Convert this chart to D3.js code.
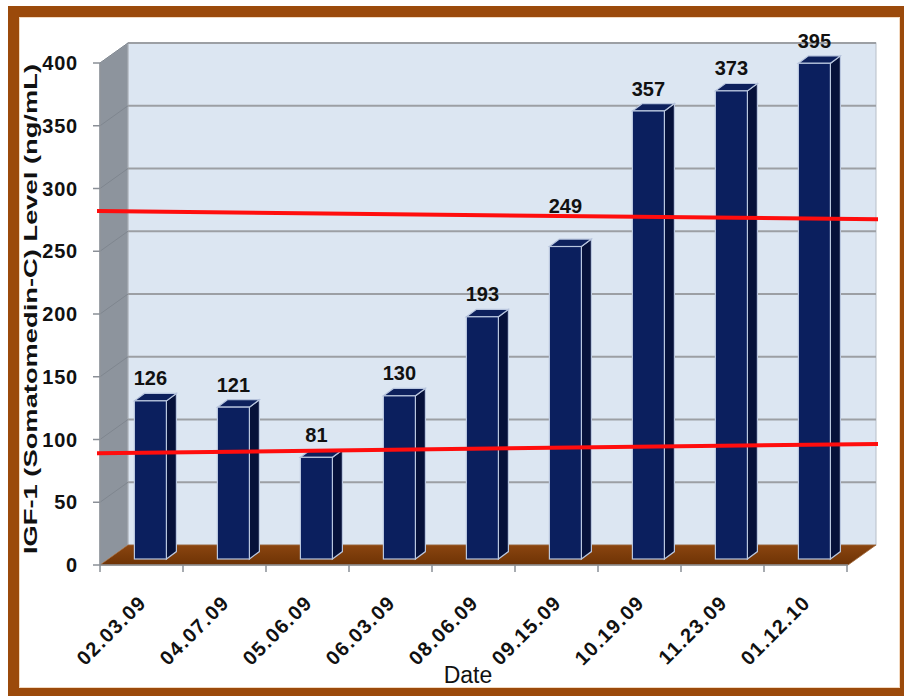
<!DOCTYPE html>
<html>
<head>
<meta charset="utf-8">
<script src="https://cdn.jsdelivr.net/npm/d3@7"></script>
<style>
  body { margin: 0; background: #fff; }
  svg { display: block; font-family: "Liberation Sans", Arial, sans-serif; }
</style>
</head>
<body>
<svg id="chart" width="904" height="696"></svg>
<script>
// values
var dates = ["02.03.09", "04.07.09", "05.06.09", "06.03.09", "08.06.09", "09.15.09", "10.19.09", "11.23.09", "01.12.10"];
var igf = [126, 121, 81, 130, 193, 249, 357, 373, 395];
var yTicks = [0, 50, 100, 150, 200, 250, 300, 350, 400];
// the two hand drawn red range lines, value at left end / right end
var upperRange = [282, 275.5];
var lowerRange = [89, 96.5];

var svg = d3.select("#chart");

var depth = { dx: 28, dy: -20 },   // 3d offset of the back wall
    barDepth = { f0: 0.3, w: 10, h: 7.4 },
    barWidth = 32;

var x = d3.scaleBand().domain(dates).range([100, 847]),
    y = d3.scaleLinear().domain([0, 400]).range([565, 63]);

var left = x.range()[0], right = x.range()[1];

// frame
svg.append("rect")
    .attr("x", 13.5).attr("y", 11.5)
    .attr("width", 892).attr("height", 682)
    .attr("fill", "#fff")
    .attr("stroke", "#9b4a0b").attr("stroke-width", 11);
svg.append("rect")
    .attr("x", 19.5).attr("y", 17.5)
    .attr("width", 880).attr("height", 670)
    .attr("fill", "none")
    .attr("stroke", "#f3d9c0").attr("stroke-width", 1);

var g = svg.append("g");

// back wall
g.append("rect")
    .attr("x", left + depth.dx).attr("y", y(400) + depth.dy)
    .attr("width", right - left + 1).attr("height", y(0) - y(400))
    .attr("fill", "#dce6f2")
    .attr("stroke", "#b8bfc8").attr("stroke-width", 1);

// side wall
g.append("polygon")
    .attr("points", [
        [left, y(400)], [left + depth.dx, y(400) + depth.dy],
        [left + depth.dx, y(0) + depth.dy], [left, y(0)]
    ].join(" "))
    .attr("fill", "#8d949d")
    .attr("stroke", "#b0b6bd").attr("stroke-width", 1);

// gridlines
g.selectAll(".grid")
    .data(yTicks.slice(1))
    .enter().append("line")
    .attr("class", "grid")
    .attr("x1", left + depth.dx).attr("x2", right + depth.dx + 1)
    .attr("y1", function (d) { return y(d) + depth.dy; })
    .attr("y2", function (d) { return y(d) + depth.dy; })
    .attr("stroke", "#9c9fa4").attr("stroke-width", 2);

g.selectAll(".sidegrid")
    .data(yTicks.slice(1))
    .enter().append("line")
    .attr("class", "sidegrid")
    .attr("x1", left).attr("x2", left + depth.dx)
    .attr("y1", function (d) { return y(d); })
    .attr("y2", function (d) { return y(d) + depth.dy; })
    .attr("stroke", "#7f868f").attr("stroke-width", 1);

// floor
var floorGrad = svg.append("defs").append("linearGradient")
    .attr("id", "floor").attr("x1", 0).attr("x2", 0).attr("y1", 0).attr("y2", 1);
floorGrad.append("stop").attr("offset", "0%").attr("stop-color", "#8a4510");
floorGrad.append("stop").attr("offset", "100%").attr("stop-color", "#6e3305");

g.append("polygon")
    .attr("points", [
        [left, y(0)], [right + 1, y(0)],
        [right + 1 + depth.dx, y(0) + depth.dy], [left + depth.dx, y(0) + depth.dy]
    ].join(" "))
    .attr("fill", "url(#floor)")
    .attr("stroke", "#a0673a").attr("stroke-width", 0.8);

// axes
g.append("line")
    .attr("x1", left).attr("x2", left)
    .attr("y1", y(400)).attr("y2", y(0))
    .attr("stroke", "#8a8f96").attr("stroke-width", 1.5);
g.append("line")
    .attr("x1", left).attr("x2", right + 1)
    .attr("y1", y(0)).attr("y2", y(0))
    .attr("stroke", "#8a8f96").attr("stroke-width", 1.5);

g.selectAll(".ytick")
    .data(yTicks)
    .enter().append("line")
    .attr("x1", left - 7).attr("x2", left)
    .attr("y1", function (d) { return y(d); })
    .attr("y2", function (d) { return y(d); })
    .attr("stroke", "#8a8f96").attr("stroke-width", 1.5);

g.selectAll(".ylab")
    .data(yTicks)
    .enter().append("text")
    .attr("x", 78)
    .attr("y", function (d) { return y(d); })
    .attr("dy", "0.36em")
    .attr("text-anchor", "end")
    .attr("font-size", 20).attr("font-weight", "bold")
    .attr("letter-spacing", 0.8)
    .attr("fill", "#111")
    .text(function (d) { return d; });

var tickPos = dates.map(function (d) { return x(d); }).concat([right]);
g.selectAll(".xtick")
    .data(tickPos)
    .enter().append("line")
    .attr("x1", function (d) { return d; }).attr("x2", function (d) { return d; })
    .attr("y1", y(0)).attr("y2", y(0) + 7)
    .attr("stroke", "#8a8f96").attr("stroke-width", 1.5);

g.selectAll(".xlab")
    .data(dates)
    .enter().append("text")
    .attr("transform", function (d) {
        return "translate(" + (x(d) + x.bandwidth() / 2 + 6) + ",604) rotate(-45)";
    })
    .attr("text-anchor", "end")
    .attr("font-size", 20).attr("font-weight", "bold")
    .attr("letter-spacing", 1.3)
    .attr("fill", "#111")
    .text(function (d) { return d; });

// bars
var sx = depth.dx * barDepth.f0, sy = depth.dy * barDepth.f0;

var bars = g.selectAll(".bar")
    .data(igf)
    .enter().append("g")
    .attr("class", "bar");

function bx(d, i) { return x(dates[i]) + 26 + sx; }

bars.append("polygon") // side
    .attr("points", function (d, i) {
        var a = bx(d, i) + barWidth, t = y(d) + sy, b = y(0) + sy;
        return [[a, t], [a + barDepth.w, t - barDepth.h], [a + barDepth.w, b - barDepth.h], [a, b]].join(" ");
    })
    .attr("fill", "#06113a")
    .attr("stroke", "#b9c6de").attr("stroke-width", 1.2);

bars.append("polygon") // top
    .attr("points", function (d, i) {
        var a = bx(d, i), t = y(d) + sy;
        return [[a, t], [a + barDepth.w, t - barDepth.h], [a + barWidth + barDepth.w, t - barDepth.h], [a + barWidth, t]].join(" ");
    })
    .attr("fill", "#0d205c")
    .attr("stroke", "#b9c6de").attr("stroke-width", 1.2);

bars.append("rect") // front
    .attr("x", function (d, i) { return bx(d, i); })
    .attr("y", function (d) { return y(d) + sy; })
    .attr("width", barWidth)
    .attr("height", function (d) { return y(0) - y(d); })
    .attr("fill", "#0b1f5e")
    .attr("stroke", "#b9c6de").attr("stroke-width", 1.2);

bars.append("text")
    .attr("x", function (d, i) { return bx(d, i) + barWidth / 2; })
    .attr("y", function (d, i) {
        var yy = y(d) + sy - barDepth.h - 8;
        return i === 5 ? yy - 18 : yy; // 249 label was lifted above the red line
    })
    .attr("text-anchor", "middle")
    .attr("font-size", 20).attr("font-weight", "bold")
    .attr("fill", "#111")
    .text(function (d) { return d; });

// red range lines
[upperRange, lowerRange].forEach(function (r) {
    g.append("line")
        .attr("x1", left - 3).attr("x2", right + depth.dx + 3)
        .attr("y1", y(r[0])).attr("y2", y(r[1]))
        .attr("stroke", "#ff0d0d").attr("stroke-width", 4);
});

// titles
svg.append("text")
    .attr("transform", "translate(37,309) rotate(-90)")
    .attr("text-anchor", "middle")
    .attr("font-size", 18).attr("font-weight", "bold")
    .attr("textLength", 490).attr("lengthAdjust", "spacingAndGlyphs")
    .attr("fill", "#111")
    .text("IGF-1 (Somatomedin-C) Level (ng/mL)");

svg.append("text")
    .attr("x", 468).attr("y", 683)
    .attr("text-anchor", "middle")
    .attr("font-size", 23)
    .attr("fill", "#111")
    .text("Date");
</script>
</body>
</html>
